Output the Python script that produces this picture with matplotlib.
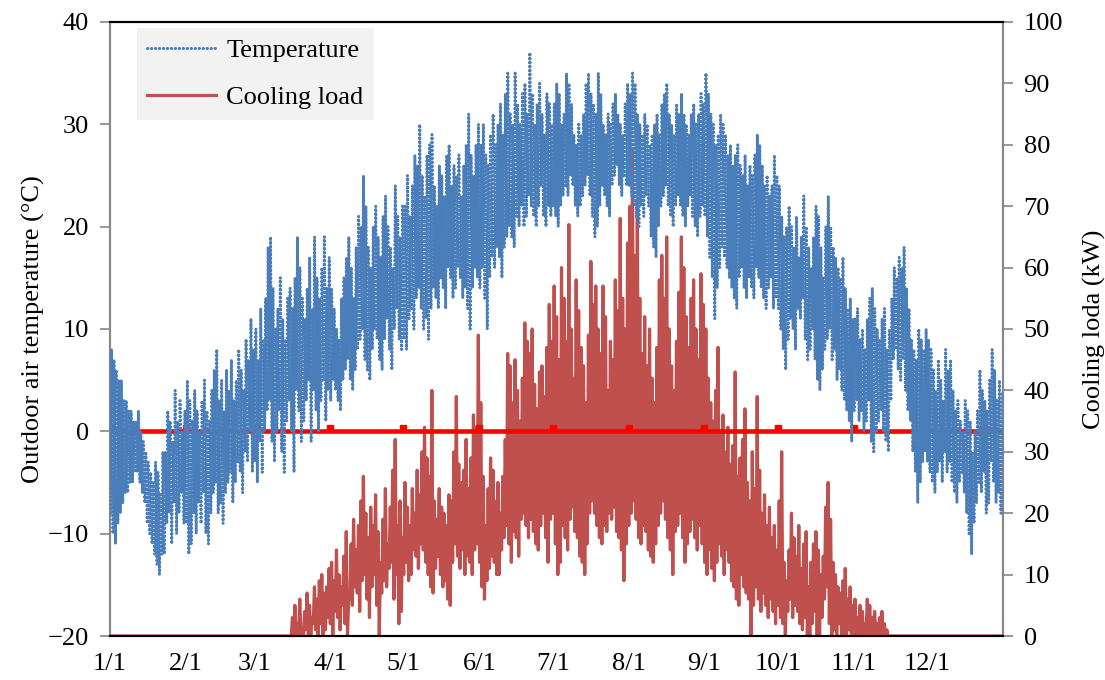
import numpy as np
import matplotlib.pyplot as plt

# month axis
month_labels = ['1/1', '2/1', '3/1', '4/1', '5/1', '6/1',
                '7/1', '8/1', '9/1', '10/1', '11/1', '12/1']
month_start = [0, 31, 59, 90, 120, 151, 181, 212, 243, 273, 304, 334]

# daily max / min outdoor air temperature (degC), one row per month
temp_high = [
    8, 7, 6, 5, 5, 3, 3, 2, 2, 1, 1, 2, 0, -1, -2, -3, -4, -5, -3, -4, -6, -2, -2, 2, 1, -1, 4, 1, 3, 0, 2,
    5, 3, 1, 4, 2, 0, 3, 5, 2, 1, 4, 6, 8, 3, 5, 2, 6, 4, 7, 3, 5, 8, 6, 4, 9, 7, 11, 8,
    10, 7, 12, 9, 13, 18, 19, 14, 10, 12, 15, 11, 9, 13, 14, 12, 15, 19, 16, 13, 11, 14, 17, 12, 19, 15, 13, 16, 19, 14, 17,
    14, 12, 10, 9, 13, 15, 17, 19, 16, 13, 18, 21, 20, 25, 22, 18, 16, 20, 22, 19, 17, 21, 23, 20, 18, 16, 24, 21, 19, 22,
    22, 25, 21, 24, 27, 26, 30, 25, 23, 27, 28, 29, 24, 22, 26, 25, 23, 27, 28, 24, 26, 25, 27, 23, 26, 28, 31, 27, 25, 28, 30,
    28, 30, 27, 26, 29, 31, 28, 30, 32, 29, 33, 35, 31, 30, 35, 32, 30, 33, 34, 31, 37, 33, 30, 32, 34, 31, 29, 33, 32, 30,
    32, 34, 33, 30, 31, 35, 34, 32, 29, 28, 30, 29, 31, 34, 35, 33, 32, 31, 35, 33, 30, 29, 31, 30, 32, 33, 31, 30, 29, 32, 34,
    33, 35, 34, 31, 30, 29, 31, 30, 28, 29, 30, 31, 29, 32, 33, 34, 31, 30, 29, 32, 31, 33, 31, 30, 29, 31, 32, 30, 31, 33, 32,
    35, 33, 31, 30, 28, 29, 31, 30, 29, 27, 28, 26, 27, 28, 26, 25, 27, 24, 26, 25, 27, 29, 28, 26, 24, 25, 23, 24, 27, 25,
    24, 21, 19, 20, 22, 20, 18, 21, 17, 19, 23, 20, 18, 16, 19, 22, 21, 18, 15, 20, 23, 20, 18, 17, 16, 15, 17, 14, 12, 13, 11,
    11, 12, 9, 10, 8, 11, 13, 14, 12, 10, 9, 11, 12, 8, 10, 13, 16, 15, 17, 16, 18, 14, 12, 9, 8, 7, 10, 9, 8, 10,
    9, 8, 6, 4, 7, 5, 3, 8, 6, 7, 4, 2, 3, 1, 0, 3, 2, 1, -2, 0, 2, 6, 4, 3, 2, 5, 8, 6, 3, 5, 4,
]
temp_low = [
    -8, -10, -11, -9, -8, -7, -6, -6, -5, -5, -4, -4, -5, -6, -7, -9, -10, -11, -12, -13, -14, -12, -12, -9, -8, -11, -7, -10, -8, -6, -9,
    -9, -12, -11, -8, -10, -7, -9, -6, -10, -11, -8, -6, -5, -8, -7, -9, -6, -5, -4, -7, -5, -3, -4, -6, -2, -3, 0, -4,
    -3, -5, -1, -4, 0, 2, 3, -1, -3, 0, 2, -2, -4, 1, 3, 0, -4, 4, 2, -1, 1, 3, 5, -1, 4, 2, 0, 3, 5, 1, 4,
    3, 5, 4, 3, 2, 5, 6, 7, 5, 4, 6, 8, 9, 10, 7, 6, 5, 8, 10, 9, 7, 6, 9, 11, 8, 6, 10, 12, 9, 8,
    9, 8, 11, 12, 10, 13, 14, 12, 10, 11, 9, 12, 14, 13, 12, 15, 14, 12, 16, 15, 13, 14, 16, 15, 13, 14, 12, 10, 14, 16, 15,
    14, 16, 13, 10, 15, 17, 16, 18, 17, 15, 18, 19, 20, 19, 18, 21, 20, 22, 20, 21, 23, 22, 21, 20, 22, 24, 21, 20, 22, 21,
    22, 21, 20, 22, 23, 24, 23, 25, 24, 22, 21, 22, 23, 24, 25, 23, 21, 19, 20, 22, 24, 23, 22, 21, 24, 25, 26, 24, 23, 25, 24,
    24, 23, 22, 21, 20, 22, 21, 23, 22, 19, 18, 17, 20, 22, 23, 24, 22, 21, 20, 22, 23, 22, 21, 20, 22, 23, 21, 20, 19, 21, 22,
    21, 19, 17, 15, 11, 14, 16, 18, 17, 16, 15, 14, 13, 12, 15, 16, 14, 13, 15, 14, 13, 16, 15, 14, 13, 12, 14, 15, 12, 13,
    12, 10, 8, 6, 9, 11, 10, 8, 12, 11, 13, 9, 7, 8, 10, 7, 5, 4, 6, 8, 9, 10, 7, 8, 5, 6, 4, 3, 2, 1, -1,
    2, 3, 1, 2, 0, 1, 3, -1, -2, 0, 1, 2, 0, -1, -2, 3, 7, 8, 6, 5, 7, 4, 2, 1, -2, -4, -7, -5, -3, -2,
    -3, -4, -5, -6, -4, -3, -5, -2, -4, -3, -5, -6, -7, -5, -4, -6, -8, -10, -12, -9, -7, -5, -6, -4, -8, -7, -3, -5, -7, -6, -8,
]

# daily peak / base cooling load (kW)
load_peak = (
    [0] * 31 + [0] * 28 + [0] * 15 +
    [3, 5, 2, 6, 0, 4, 7, 5, 3, 8, 6, 9, 10, 7, 8, 11] +
    [12, 9, 14, 10, 8, 13, 17, 6, 15, 19, 14, 18, 22, 26, 20, 16, 21, 18, 23, 17, 12, 19, 24, 15, 21, 27, 32, 18, 22, 16] +
    [25, 21, 18, 24, 20, 27, 23, 30, 34, 29, 26, 40, 22, 19, 24, 21, 20, 18, 23, 22, 30, 39, 28, 25, 27, 32, 24, 29, 36, 34, 49] +
    [38, 26, 18, 24, 29, 27, 22, 25, 20, 26, 32, 46, 44, 38, 45, 40, 35, 42, 51, 48, 46, 50, 41, 37, 43, 44, 39, 47, 54, 48] +
    [57, 52, 45, 60, 55, 48, 67, 50, 42, 58, 53, 47, 44, 38, 49, 61, 54, 57, 50, 46, 57, 52, 40, 48, 45, 58, 53, 68, 55, 50, 64] +
    [70, 79, 62, 71, 55, 46, 52, 44, 50, 42, 38, 47, 58, 62, 55, 65, 50, 44, 40, 48, 56, 65, 60, 52, 47, 55, 58, 50, 45, 59, 54] +
    [50, 42, 38, 35, 40, 47, 33, 36, 30, 34, 28, 31, 43, 26, 29, 32, 37, 25, 22, 30, 24, 39, 27, 20, 23, 18, 21, 16, 18, 14] +
    [22, 30, 12, 9, 14, 20, 16, 13, 18, 11, 15, 17, 8, 12, 15, 17, 14, 10, 13, 21, 25, 19, 12, 10, 8, 7, 9, 11, 6, 8, 5] +
    [6, 3, 5, 4, 2, 6, 5, 3, 4, 2, 3, 4, 2, 1] + [0] * 16 +
    [0] * 31
)
load_base = (
    [0] * 31 + [0] * 28 + [0] * 15 +
    [0, 0, 0, 0, 0, 0, 1, 0, 0, 2, 1, 0, 2, 0, 1, 3] +
    [2, 0, 4, 3, 1, 5, 2, 0, 6, 5, 8, 7, 4, 9, 10, 6, 3, 8, 10, 5, 0, 7, 9, 8, 11, 12, 6, 10, 2, 4] +
    [10, 12, 9, 10, 14, 13, 11, 15, 14, 12, 10, 8, 7, 11, 13, 10, 8, 9, 6, 5, 12, 15, 13, 11, 14, 10, 13, 12, 10, 14, 15] +
    [12, 8, 6, 9, 11, 13, 12, 10, 10, 14, 16, 18, 15, 12, 17, 16, 13, 19, 20, 18, 16, 19, 17, 15, 14, 18, 20, 16, 12, 19] +
    [20, 15, 10, 12, 18, 16, 14, 19, 21, 17, 16, 13, 12, 10, 15, 20, 22, 20, 18, 16, 15, 18, 17, 20, 19, 21, 17, 16, 14, 9, 15] +
    [18, 20, 22, 19, 16, 15, 18, 17, 14, 13, 12, 15, 18, 20, 22, 19, 16, 14, 10, 17, 18, 20, 16, 12, 15, 17, 19, 16, 14, 18, 15] +
    [12, 10, 14, 11, 9, 12, 15, 13, 10, 14, 12, 9, 8, 6, 5, 10, 8, 7, 6, 0, 5, 8, 6, 4, 7, 5, 3, 6, 4, 2] +
    [5, 3, 2, 0, 4, 6, 3, 5, 4, 2, 1, 3, 0, 0, 2, 4, 0, 0, 3, 6, 8, 2, 0, 1, 0, 2, 0, 0, 0, 1, 0] +
    [0] * 30 +
    [0] * 31
)

plt.rcParams['font.family'] = 'Liberation Serif'

fig = plt.figure(figsize=(11.05, 6.8), dpi=100)
ax = fig.add_axes([0.0995, 0.0647, 0.808, 0.903])
ax2 = ax.twinx()

# each day: low in the early morning, high in the afternoon
days = np.arange(len(temp_high))
t_x = np.column_stack([days + 0.25, days + 0.65]).ravel()
t_y = np.column_stack([temp_low, temp_high]).ravel()
l_days = np.arange(len(load_peak))
l_x = np.column_stack([l_days + 0.1, l_days + 0.6]).ravel()
l_y = np.column_stack([load_base, load_peak]).ravel()

line_t, = ax.plot(t_x, t_y, color='#4A7EBB', lw=2.2, linestyle=(0, (0.1, 1.2)),
                  dash_capstyle='round', zorder=3, label='Temperature')
ax.axhline(0, color='#FF0000', lw=3.3, zorder=2)
ax.plot(month_start, [0.3] * len(month_start), 's', color='#FF0000', ms=4, zorder=2)
line_l, = ax2.plot(l_x, l_y, color='#C0504D', lw=2.3, label='Cooling load')

# temperature on top of the load
ax.set_zorder(ax2.get_zorder() + 1)
ax.patch.set_visible(False)

ax.set_xlim(0, 365)
ax.set_ylim(-20, 40)
ax2.set_ylim(0, 100)
ax.set_yticks(range(-20, 41, 10))
ax2.set_yticks(range(0, 101, 10))
ax.set_xticks(month_start)
ax.set_xticklabels(month_labels)

ax.tick_params(axis='x', length=0, pad=12, labelsize=19)
ax.tick_params(axis='y', direction='out', length=7, width=1.2, color='#868686', labelsize=19, pad=8)
ax2.tick_params(axis='y', direction='out', length=7, width=1.2, color='#868686', labelsize=19, pad=8)

for a in (ax, ax2):
    a.spines['left'].set_color('#868686')
    a.spines['right'].set_color('#868686')
    a.spines['top'].set_color('black')
    a.spines['bottom'].set_color('black')
    for s in a.spines.values():
        s.set_linewidth(1.5)

ax.set_ylabel('Outdoor air temperature (\u00b0C)', fontsize=19, labelpad=2)
ax2.set_ylabel('Cooling loda (kW)', fontsize=19, labelpad=14)

leg = ax2.legend(handles=[line_t, line_l], loc='upper left', bbox_to_anchor=(0.03, 0.99),
                 borderaxespad=0, fontsize=19, frameon=True, fancybox=False,
                 handlelength=2.6, handletextpad=0.4, labelspacing=0.9,
                 borderpad=0.4)
leg.get_frame().set_facecolor('#F2F2F2')
leg.get_frame().set_edgecolor('none')
leg.get_frame().set_alpha(1)

fig.savefig('out.png', dpi=100, facecolor='white')
